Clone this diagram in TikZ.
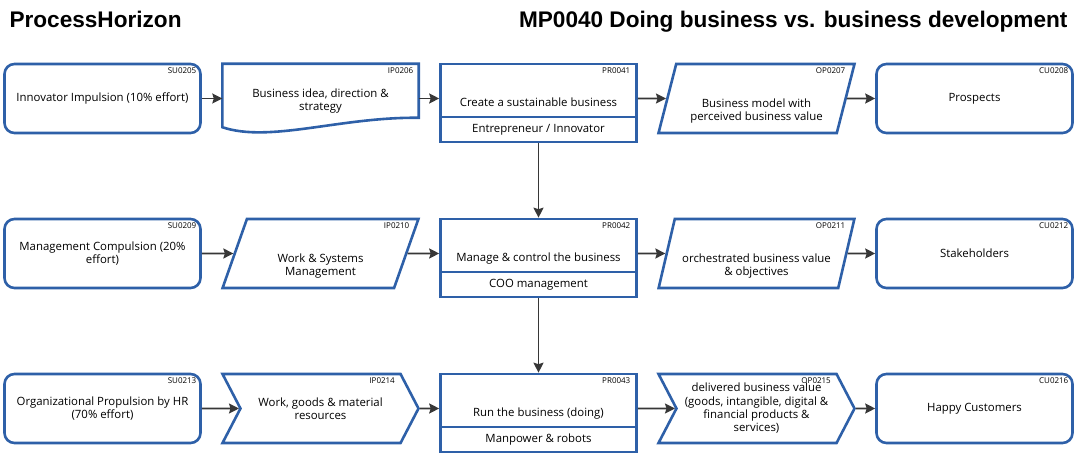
\documentclass[tikz,border=0pt]{standalone}
\usepackage{fontspec}
\setmainfont{Open Sans}
\newfontfamily\headfont{Liberation Sans}
\usetikzlibrary{shapes.geometric,shapes.symbols,arrows.meta,positioning,calc}

\definecolor{phblue}{RGB}{46,96,168}
\definecolor{flowgray}{RGB}{55,55,55}

\newcommand{\boxfont}{\fontsize{11.4}{13.3}\selectfont}
\newcommand{\idfont}{\fontsize{8}{9}\selectfont}

\begin{document}
\begin{tikzpicture}[
    x=1pt, y=1pt,
    shapeline/.style={draw=phblue, line width=2.6pt},
    terminal/.style={shapeline, rectangle, rounded corners=10pt, minimum width=196pt, minimum height=69pt, align=center, font=\boxfont},
    docbox/.style={rectangle, minimum width=196pt, minimum height=69pt, align=center, font=\boxfont, text height=27pt, text depth=2pt},
    dataflow/.style={shapeline, trapezium, trapezium left angle=74.6, trapezium right angle=105.4, trapezium stretches=true, minimum width=196pt, minimum height=69pt, align=center, font=\boxfont, text height=47pt, text depth=2pt},
    goods/.style={shapeline, signal, signal to=east, signal from=west, signal pointer angle=125, minimum width=196pt, minimum height=69pt, align=center, font=\boxfont},
    process/.style={shapeline, rectangle, minimum width=196pt, minimum height=53pt, align=center, font=\boxfont, text height=34pt, text depth=2pt},
    role/.style={shapeline, rectangle, minimum width=196pt, minimum height=25pt, align=center, font=\boxfont},
    idtag/.style={anchor=north east, inner sep=0pt, font=\idfont},
    headline/.style={font=\headfont\bfseries\fontsize{22.6}{26}\selectfont},
    flow/.style={draw=flowgray, line width=1.8pt, -{Stealth[length=10pt, width=10pt, inset=1.5pt]}}
]
\useasboundingbox (0,0) rectangle (1076,465);

% Titles
\node[headline, anchor=base west] (brand) at (6,437) {ProcessHorizon};
\node[headline, anchor=base east] (title) at (1071,437) {MP0040 Doing business vs. business development};

% Row 1: business development
\node[terminal] (su1) at (102.5,366.5) {Innovator Impulsion (10\% effort)};
\node[docbox] (ip1) at (320.5,366.5) {Business idea, direction \&\\strategy};
\node[process] (pr1) at (538.5,374.5) {Create a sustainable business};
\node[role, below=-2.6pt of pr1] (pr1r) {Entrepreneur / Innovator};
\node[dataflow] (op1) at (756.5,366.5) {Business model with\\perceived business value};
\node[terminal] (cu1) at (974.5,366.5) {Prospects};

% document outline with wavy bottom
\draw[shapeline] ($(ip1.south west)+(0,6)$) -- (ip1.north west) -- (ip1.north east) -- ($(ip1.north east)+(0,-54)$)
    .. controls +(-78.5,1) and +(47.5,-16) .. ($(ip1.south west)+(0,6)$) -- cycle;

% Row 2: management
\node[terminal] (su2) at (102.5,211.5) {Management Compulsion (20\%\\effort)};
\node[dataflow] (ip2) at (320.5,211.5) {Work \& Systems\\Management};
\node[process] (pr2) at (538.5,219.5) {Manage \& control the business};
\node[role, below=-2.6pt of pr2] (pr2r) {COO management};
\node[dataflow] (op2) at (756.5,211.5) {orchestrated business value\\\& objectives};
\node[terminal] (cu2) at (974.5,211.5) {Stakeholders};

% Row 3: doing business
\node[terminal] (su3) at (102.5,56.5) {Organizational Propulsion by HR\\(70\% effort)};
\node[goods] (ip3) at (320.5,56.5) {Work, goods \& material\\resources};
\node[process] (pr3) at (538.5,64.5) {Run the business (doing)};
\node[role, below=-2.6pt of pr3] (pr3r) {Manpower \& robots};
\node[goods] (op3) at (756.5,56.5) {delivered business value\\(goods, intangible, digital \&\\financial products \&\\services)};
\node[terminal] (cu3) at (974.5,56.5) {Happy Customers};

% IDs
\node[idtag] (su1id) at ($(su1)+(94,30.5)$) {SU0205};
\node[idtag] (ip1id) at ($(ip1)+(93,30.5)$) {IP0206};
\node[idtag] (pr1id) at ($(pr1)+(92,22.5)$) {PR0041};
\node[idtag] (op1id) at ($(op1)+(89,30.5)$) {OP0207};
\node[idtag] (cu1id) at ($(cu1)+(94,30.5)$) {CU0208};
\node[idtag] (su2id) at ($(su2)+(94,30.5)$) {SU0209};
\node[idtag] (ip2id) at ($(ip2)+(89,30.5)$) {IP0210};
\node[idtag] (pr2id) at ($(pr2)+(92,22.5)$) {PR0042};
\node[idtag] (op2id) at ($(op2)+(89,30.5)$) {OP0211};
\node[idtag] (cu2id) at ($(cu2)+(94,30.5)$) {CU0212};
\node[idtag] (su3id) at ($(su3)+(94,30.5)$) {SU0213};
\node[idtag] (ip3id) at ($(ip3)+(74.5,30.5)$) {IP0214};
\node[idtag] (pr3id) at ($(pr3)+(92,22.5)$) {PR0043};
\node[idtag] (op3id) at ($(op3)+(74.5,30.5)$) {OP0215};
\node[idtag] (cu3id) at ($(cu3)+(94,30.5)$) {CU0216};

% Arrows
\draw[flow] (su1) -- (ip1);
\draw[flow] (ip1) -- (ip1 -| pr1.west);
\draw[flow] (op1 -| pr1.east) -- (op1);
\draw[flow] (op1) -- (cu1);
\draw[flow] (pr1r) -- (pr2);

\draw[flow] (su2) -- (ip2);
\draw[flow] (ip2) -- (ip2 -| pr2.west);
\draw[flow] (op2 -| pr2.east) -- (op2);
\draw[flow] (op2) -- (cu2);
\draw[flow] (pr2r) -- (pr3);

\draw[flow] (su3) -- (ip3);
\draw[flow] (ip3) -- (ip3 -| pr3.west);
\draw[flow] (op3 -| pr3.east) -- (op3);
\draw[flow] (op3) -- (cu3);

\end{tikzpicture}
\end{document}
